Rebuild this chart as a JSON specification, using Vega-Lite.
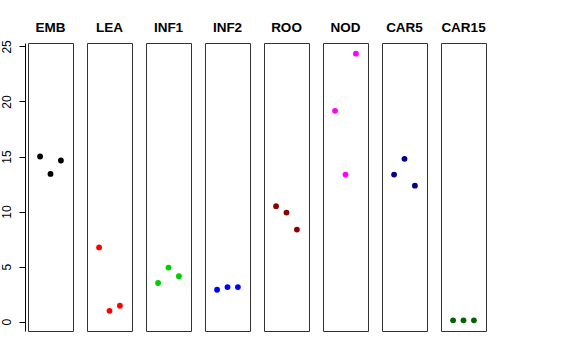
{
  "$schema": "https://vega.github.io/schema/vega-lite/v6.json",
  "background": "white",
  "padding": {"left": 0, "top": 20, "right": 5, "bottom": 5},
  "data": {"values": [
    {"group": "EMB", "rep": 1, "value": 15.0},
    {"group": "EMB", "rep": 2, "value": 13.42},
    {"group": "EMB", "rep": 3, "value": 14.64},
    {"group": "LEA", "rep": 1, "value": 6.74},
    {"group": "LEA", "rep": 2, "value": 0.98},
    {"group": "LEA", "rep": 3, "value": 1.44},
    {"group": "INF1", "rep": 1, "value": 3.51},
    {"group": "INF1", "rep": 2, "value": 4.91},
    {"group": "INF1", "rep": 3, "value": 4.12},
    {"group": "INF2", "rep": 1, "value": 2.9},
    {"group": "INF2", "rep": 2, "value": 3.14},
    {"group": "INF2", "rep": 3, "value": 3.14},
    {"group": "ROO", "rep": 1, "value": 10.49},
    {"group": "ROO", "rep": 2, "value": 9.91},
    {"group": "ROO", "rep": 3, "value": 8.36},
    {"group": "NOD", "rep": 1, "value": 19.15},
    {"group": "NOD", "rep": 2, "value": 13.36},
    {"group": "NOD", "rep": 3, "value": 24.34},
    {"group": "CAR5", "rep": 1, "value": 13.36},
    {"group": "CAR5", "rep": 2, "value": 14.79},
    {"group": "CAR5", "rep": 3, "value": 12.35},
    {"group": "CAR15", "rep": 1, "value": 0.12},
    {"group": "CAR15", "rep": 2, "value": 0.12},
    {"group": "CAR15", "rep": 3, "value": 0.12}
  ]},
  "facet": {
    "column": {
      "field": "group",
      "type": "nominal",
      "sort": ["EMB", "LEA", "INF1", "INF2", "ROO", "NOD", "CAR5", "CAR15"],
      "header": {
        "title": null,
        "labelFont": "Liberation Sans",
        "labelFontSize": 13.5,
        "labelFontWeight": "bold",
        "labelColor": "black",
        "labelPadding": 8
      }
    }
  },
  "spacing": 12,
  "spec": {
    "width": 45,
    "height": 288,
    "mark": {"type": "point", "filled": true, "size": 34, "opacity": 1},
    "encoding": {
      "x": {
        "field": "rep",
        "type": "quantitative",
        "scale": {"domain": [-0.16, 4.16], "nice": false, "zero": false},
        "axis": null
      },
      "y": {
        "field": "value",
        "type": "quantitative",
        "scale": {"domain": [-0.85, 25.31], "nice": false, "zero": false},
        "axis": {
          "title": null,
          "values": [0, 5, 10, 15, 20, 25],
          "grid": false,
          "offset": 2,
          "tickSize": 6,
          "tickColor": "black",
          "domainColor": "black",
          "labelAngle": -90,
          "labelFont": "Liberation Sans",
          "labelFontSize": 12,
          "labelColor": "black",
          "labelPadding": 6,
          "minExtent": 25,
          "maxExtent": 25
        }
      },
      "color": {
        "field": "group",
        "type": "nominal",
        "scale": {
          "domain": ["EMB", "LEA", "INF1", "INF2", "ROO", "NOD", "CAR5", "CAR15"],
          "range": ["#000000", "#FF0000", "#00CD00", "#0000FF", "#8B0000", "#FF00FF", "#00008B", "#006400"]
        },
        "legend": null
      }
    }
  },
  "config": {
    "view": {"stroke": "#333333", "strokeWidth": 1},
    "font": "Liberation Sans"
  }
}
